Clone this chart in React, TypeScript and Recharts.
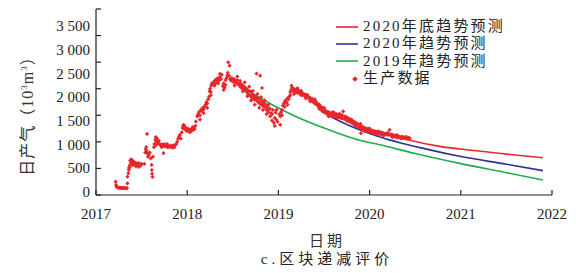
import React from 'react';
import {
  ComposedChart,
  Line,
  Scatter,
  XAxis,
  YAxis,
  Legend,
} from 'recharts';

const FONT = "'Liberation Serif', 'Times New Roman', 'Noto Sans CJK SC', serif";

const RED = '#e8262b';
const BLUE = '#2e3192';
const GREEN = '#1fae4b';
const AXIS = '#222';

const yearTicks = [2017, 2018, 2019, 2020, 2021, 2022];
const rateTicks = [0, 500, 1000, 1500, 2000, 2500, 3000, 3500];

// production data, [decimal year, daily gas 10^3 m^3]
const production: [number, number][] = [
  [2017.215, 250], [2017.22, 190], [2017.225, 160], [2017.23, 150], [2017.24, 140],
  [2017.25, 135], [2017.26, 140], [2017.27, 130], [2017.28, 135], [2017.29, 130],
  [2017.30, 128], [2017.31, 132], [2017.32, 130], [2017.33, 125], [2017.34, 130],
  [2017.345, 220], [2017.345, 345],
  [2017.355, 410], [2017.36, 470], [2017.362, 510], [2017.37, 560], [2017.375, 650],
  [2017.38, 620], [2017.385, 670], [2017.39, 640], [2017.395, 600], [2017.40, 650],
  [2017.41, 610], [2017.415, 580], [2017.42, 620], [2017.43, 560], [2017.44, 540],
  [2017.45, 590], [2017.46, 560], [2017.47, 530], [2017.48, 570], [2017.49, 550],
  [2017.50, 585], [2017.53, 585],
  [2017.54, 800], [2017.545, 860], [2017.55, 900], [2017.555, 830], [2017.56, 1150],
  [2017.565, 780], [2017.57, 720], [2017.58, 760], [2017.59, 800], [2017.60, 690],
  [2017.61, 566], [2017.612, 470], [2017.615, 400], [2017.62, 340], [2017.625, 720],
  [2017.635, 900], [2017.64, 960], [2017.65, 1040], [2017.655, 1090], [2017.66, 1000],
  [2017.67, 1060], [2017.68, 980], [2017.69, 1020], [2017.70, 950], [2017.71, 930],
  [2017.72, 960], [2017.73, 940], [2017.74, 787], [2017.745, 920], [2017.75, 960],
  [2017.76, 940], [2017.77, 910], [2017.78, 930], [2017.79, 900], [2017.80, 920],
  [2017.81, 905], [2017.82, 930], [2017.83, 900], [2017.84, 920], [2017.85, 935],
  [2017.86, 900], [2017.87, 940], [2017.88, 960], [2017.89, 1000], [2017.90, 1060],
  [2017.91, 1100], [2017.92, 1130], [2017.93, 1060], [2017.94, 1180],
  [2017.95, 1260], [2017.955, 1300], [2017.96, 1320], [2017.965, 1280], [2017.97, 1240],
  [2017.98, 1270], [2017.99, 1220], [2018.0, 1200], [2018.01, 1250], [2018.02, 1210],
  [2018.03, 1230], [2018.04, 1200], [2018.05, 1250], [2018.06, 1220], [2018.07, 1270],
  [2018.08, 1240], [2018.09, 1300], [2018.095, 1383],
  [2018.11, 1480], [2018.12, 1520], [2018.13, 1560], [2018.14, 1500], [2018.15, 1600],
  [2018.16, 1580], [2018.17, 1640], [2018.18, 1610], [2018.19, 1660], [2018.20, 1700],
  [2018.21, 1750], [2018.22, 1720], [2018.23, 1800], [2018.24, 1850], [2018.245, 1950],
  [2018.25, 2000], [2018.26, 1940], [2018.265, 2060], [2018.27, 2100], [2018.28, 2080],
  [2018.29, 2120], [2018.30, 2150], [2018.31, 2100], [2018.32, 2180], [2018.33, 2130],
  [2018.34, 2200], [2018.35, 2160], [2018.36, 2220], [2018.37, 2180], [2018.38, 2264],
  [2018.39, 2050], [2018.40, 1980], [2018.41, 2020], [2018.42, 2070], [2018.43, 2200],
  [2018.44, 2250], [2018.445, 2300], [2018.45, 2496], [2018.46, 2240], [2018.465, 2434],
  [2018.47, 2180],
  [2018.48, 2150], [2018.49, 2200], [2018.50, 2170], [2018.51, 2120], [2018.52, 2180],
  [2018.53, 2140], [2018.54, 2110], [2018.55, 2160], [2018.56, 2080], [2018.57, 2100],
  [2018.58, 2040], [2018.59, 2090], [2018.60, 2010], [2018.61, 2060], [2018.62, 1990],
  [2018.63, 2030], [2018.64, 1960], [2018.65, 2000], [2018.66, 1920], [2018.67, 1960],
  [2018.68, 1880], [2018.69, 1950], [2018.70, 1850], [2018.71, 1900], [2018.72, 1820],
  [2018.73, 1870], [2018.74, 1790], [2018.75, 1840], [2018.76, 2283], [2018.765, 1810],
  [2018.77, 1760], [2018.78, 1820], [2018.79, 1730], [2018.80, 2245], [2018.805, 1780],
  [2018.81, 1700], [2018.82, 2013], [2018.825, 1750], [2018.83, 1680], [2018.84, 1730],
  [2018.85, 1650], [2018.86, 1700], [2018.87, 1600], [2018.88, 1660], [2018.89, 1560],
  [2018.90, 1620], [2018.91, 1480], [2018.92, 1540], [2018.93, 1400], [2018.94, 1600],
  [2018.95, 1360], [2018.96, 1450], [2018.97, 1550], [2018.98, 1415], [2018.99, 1380],
  [2019.02, 1320],
  [2019.01, 1520], [2019.02, 1480], [2019.03, 1560], [2019.04, 1600], [2019.05, 1680],
  [2019.06, 1720], [2019.07, 1660], [2019.08, 1780], [2019.09, 1740], [2019.10, 1820],
  [2019.11, 1800], [2019.12, 1850], [2019.13, 1940], [2019.14, 1980], [2019.145, 2057],
  [2019.15, 2020], [2019.16, 1960], [2019.17, 2000], [2019.18, 1950], [2019.19, 1930],
  [2019.20, 1990], [2019.21, 2010], [2019.22, 1970], [2019.23, 1940], [2019.24, 1900],
  [2019.25, 1960], [2019.26, 1920], [2019.27, 1880],
  [2019.28, 1900], [2019.29, 1860], [2019.30, 1890], [2019.31, 1850], [2019.32, 1880],
  [2019.33, 1840], [2019.34, 1800], [2019.35, 1830], [2019.36, 1780], [2019.37, 1810],
  [2019.38, 1750], [2019.39, 1780], [2019.40, 1720], [2019.41, 1760], [2019.42, 1700],
  [2019.43, 1720], [2019.44, 1660], [2019.45, 1700], [2019.46, 1620], [2019.47, 1660],
  [2019.48, 1580], [2019.49, 1630], [2019.50, 1560], [2019.51, 1600], [2019.52, 1540],
  [2019.53, 1570], [2019.54, 1520], [2019.55, 1560], [2019.56, 1490], [2019.57, 1540],
  [2019.58, 1500], [2019.59, 1550], [2019.60, 1480], [2019.61, 1520], [2019.62, 1490],
  [2019.63, 1530], [2019.64, 1460], [2019.65, 1510],
  [2019.66, 1470], [2019.67, 1530], [2019.68, 1450], [2019.69, 1500], [2019.70, 1440],
  [2019.71, 1572], [2019.72, 1430], [2019.73, 1480], [2019.74, 1420], [2019.75, 1460],
  [2019.76, 1400], [2019.77, 1440], [2019.78, 1380], [2019.79, 1420], [2019.80, 1360],
  [2019.81, 1400], [2019.82, 1340], [2019.83, 1380], [2019.84, 1320], [2019.85, 1360],
  [2019.86, 1300], [2019.87, 1340], [2019.88, 1280], [2019.89, 1320], [2019.90, 1260],
  [2019.905, 1164], [2019.91, 1300], [2019.92, 1240], [2019.93, 1280], [2019.94, 1220],
  [2019.95, 1260], [2019.96, 1210], [2019.97, 1250], [2019.98, 1200], [2019.99, 1240],
  [2020.00, 1190], [2020.01, 1220], [2020.02, 1180], [2020.03, 1210], [2020.04, 1170],
  [2020.05, 1200], [2020.06, 1160], [2020.07, 1190], [2020.08, 1150], [2020.09, 1180],
  [2020.10, 1140], [2020.11, 1170], [2020.12, 1150], [2020.13, 1180], [2020.14, 1140],
  [2020.15, 1160], [2020.16, 1130], [2020.17, 1150], [2020.18, 1140], [2020.19, 1160],
  [2020.20, 1130], [2020.21, 1150], [2020.22, 1226], [2020.23, 1120], [2020.24, 1140],
  [2020.25, 1110], [2020.26, 1130], [2020.27, 1100], [2020.28, 1120], [2020.29, 1090],
  [2020.30, 1110], [2020.31, 1080], [2020.32, 1100], [2020.33, 1090], [2020.34, 1070],
  [2020.35, 1100], [2020.36, 1080], [2020.37, 1090], [2020.38, 1070], [2020.39, 1085],
  [2020.40, 1065], [2020.41, 1080], [2020.42, 1060], [2020.43, 1075], [2020.44, 1065],
  // scattered daily readings around the main trend
  [2017.37, 520], [2017.40, 560], [2017.44, 600], [2017.47, 600], [2017.66, 940],
  [2017.72, 900], [2017.78, 960], [2017.84, 890], [2017.97, 1300], [2018.03, 1180],
  [2018.06, 1280], [2018.14, 1420], [2018.18, 1540], [2018.22, 1640], [2018.26, 1880],
  [2018.30, 2060], [2018.34, 2100], [2018.36, 2280], [2018.40, 2100], [2018.42, 2160],
  [2018.52, 2060], [2018.55, 2230], [2018.58, 2150], [2018.61, 1950], [2018.63, 2120],
  [2018.66, 1860], [2018.68, 2040], [2018.70, 1780], [2018.72, 1960], [2018.74, 1700],
  [2018.77, 1900], [2018.79, 1640], [2018.81, 1840], [2018.83, 1600], [2018.85, 1780],
  [2018.87, 1520], [2018.89, 1700], [2018.91, 1620], [2018.93, 1520], [2018.96, 1300],
  [2018.98, 1600], [2019.04, 1500], [2019.07, 1760], [2019.10, 1700], [2019.13, 1880],
  [2019.17, 1900], [2019.21, 1920], [2019.25, 1880], [2019.30, 1820], [2019.35, 1760],
  [2019.40, 1800], [2019.45, 1620], [2019.50, 1640], [2019.55, 1480], [2019.60, 1560],
  [2019.65, 1450], [2019.70, 1500], [2019.75, 1400], [2019.80, 1420], [2019.85, 1300],
  [2019.90, 1340], [2019.95, 1200], [2020.00, 1250], [2020.05, 1150], [2020.10, 1200],
  [2020.15, 1120], [2020.20, 1170], [2020.25, 1090], [2020.30, 1130], [2020.35, 1065],
  [2020.40, 1095],
];

// forecast curves
const trend2019Years = [2018.49, 2018.8, 2019.16, 2019.53, 2019.9, 2020.1, 2020.5, 2021.0, 2021.5, 2021.9];
const trend2019Rates = [2170, 1825, 1500, 1240, 1025, 950, 780, 590, 420, 283];

const trend2020Years = [2019.51, 2019.68, 2020.08, 2020.66, 2021.0, 2021.5, 2021.9];
const trend2020Rates = [1540, 1383, 1110, 849, 723, 580, 459];

const trendEnd2020Years = [2019.95, 2020.11, 2020.41, 2020.77, 2021.0, 2021.5, 2021.9];
const trendEnd2020Rates = [1240, 1195, 1045, 915, 865, 770, 700];

const toRows = (ts: number[], vs: number[]) => ts.map((t, i) => ({ t, v: vs[i] }));

const productionRows = production.map(([t, v]) => ({ t, v }));
const rowsEnd2020 = toRows(trendEnd2020Years, trendEnd2020Rates);
const rows2020 = toRows(trend2020Years, trend2020Rates);
const rows2019 = toRows(trend2019Years, trend2019Rates);

const legendItems = [
  { label: '2020年底趋势预测', color: RED, kind: 'line' },
  { label: '2020年趋势预测', color: BLUE, kind: 'line' },
  { label: '2019年趋势预测', color: GREEN, kind: 'line' },
  { label: '生产数据', color: RED, kind: 'dot' },
];

const formatRate = (v: number) =>
  v >= 1000 ? `${Math.floor(v / 1000)} ${String(v % 1000).padStart(3, '0')}` : String(v);

const Diamond = (props: any) => {
  const { cx, cy } = props;
  if (cx == null || cy == null) return null;
  const r = 2.1;
  return (
    <path
      d={`M${cx},${cy - r}L${cx + r},${cy}L${cx},${cy + r}L${cx - r},${cy}Z`}
      fill={RED}
    />
  );
};

// the printed figure sets its y labels a little tighter than its tick marks
const PLOT_BOTTOM = 195;
const YTick = (props: any) => {
  const { x, y, payload } = props;
  const ly = PLOT_BOTTOM - 3 - (PLOT_BOTTOM - y) * 0.89;
  return (
    <text
      x={x}
      y={ly}
      textAnchor="end"
      dominantBaseline="central"
      fontFamily={FONT}
      fontSize={15}
      fill="#222"
    >
      {formatRate(payload.value)}
    </text>
  );
};

const LegendBox = () => (
  <div style={{ fontFamily: FONT, fontSize: 15, color: '#222', lineHeight: '17.3px' }}>
    {legendItems.map((item) => (
      <div key={item.label} style={{ display: 'flex', alignItems: 'center', whiteSpace: 'nowrap' }}>
        <svg width={27} height={10} style={{ flex: 'none' }}>
          {item.kind === 'line' ? (
            <line x1={0} y1={5} x2={22} y2={5} stroke={item.color} strokeWidth={1.6} />
          ) : (
            <path d="M19,2.2L21.8,5L19,7.8L16.2,5Z" fill={item.color} />
          )}
        </svg>
        <span style={{ letterSpacing: 2.2 }}>{item.label}</span>
      </div>
    ))}
  </div>
);

const textStyle = {
  position: 'absolute' as const,
  fontFamily: FONT,
  fontSize: 15,
  color: '#333',
  whiteSpace: 'nowrap' as const,
};

export default function App() {
  return (
    <div style={{ position: 'absolute', left: 0, top: 0, width: 576, height: 273, background: '#fff' }}>
      <ComposedChart
        width={576}
        height={273}
        margin={{ top: 9, right: 24, bottom: 0, left: 0 }}
      >
        <XAxis
          type="number"
          dataKey="t"
          domain={[2017, 2022]}
          ticks={yearTicks}
          allowDataOverflow
          height={78}
          stroke={AXIS}
          strokeWidth={1.2}
          tickSize={-5}
          tickMargin={18}
          tick={{ fontFamily: FONT, fontSize: 15, fill: '#222' }}
        />
        <YAxis
          type="number"
          dataKey="v"
          domain={[0, 3500]}
          ticks={rateTicks}
          allowDataOverflow
          width={96}
          stroke={AXIS}
          strokeWidth={1.2}
          tickSize={-5}
          tickMargin={11}
          tick={<YTick />}
        />
        <Legend
          layout="vertical"
          align="center"
          verticalAlign="middle"
          content={() => <LegendBox />}
          wrapperStyle={{ left: 336, top: 18, width: 230 }}
        />
        <Scatter
          name="生产数据"
          data={productionRows}
          dataKey="v"
          fill={RED}
          shape={<Diamond />}
          isAnimationActive={false}
        />
        <Line
          name="2019年趋势预测"
          data={rows2019}
          dataKey="v"
          type="monotone"
          stroke={GREEN}
          strokeWidth={1.6}
          dot={false}
          isAnimationActive={false}
        />
        <Line
          name="2020年趋势预测"
          data={rows2020}
          dataKey="v"
          type="monotone"
          stroke={BLUE}
          strokeWidth={1.6}
          dot={false}
          isAnimationActive={false}
        />
        <Line
          name="2020年底趋势预测"
          data={rowsEnd2020}
          dataKey="v"
          type="monotone"
          stroke={RED}
          strokeWidth={1.6}
          dot={false}
          isAnimationActive={false}
        />
      </ComposedChart>
      {/* y axis title, rotated */}
      <div
        style={{
          ...textStyle,
          left: 24 - 70,
          top: 112 - 10,
          width: 140,
          height: 20,
          lineHeight: '20px',
          textAlign: 'center',
          fontSize: 16,
          letterSpacing: 1,
          transform: 'rotate(-90deg)',
        }}
      >
        日产气（10<sup style={{ fontSize: 9, verticalAlign: 6 }}>3</sup>m<sup style={{ fontSize: 9, verticalAlign: 6 }}>3</sup>）
      </div>
      <div style={{ ...textStyle, left: 0, width: 654, top: 229, textAlign: 'center', letterSpacing: 3 }}>
        日期
      </div>
      <div style={{ ...textStyle, left: 0, width: 654, top: 247, textAlign: 'center', letterSpacing: 4, color: '#222' }}>
        c.区块递减评价
      </div>
    </div>
  );
}
